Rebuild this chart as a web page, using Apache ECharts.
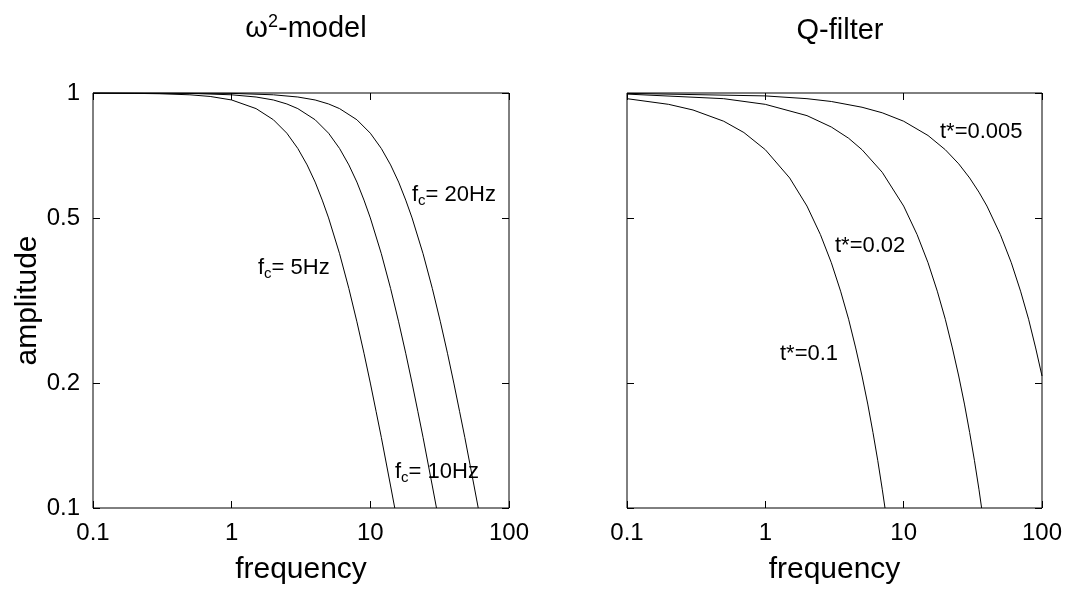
<!DOCTYPE html>
<html>
<head>
<meta charset="utf-8">
<script src="https://cdn.jsdelivr.net/npm/echarts@6/dist/echarts.min.js"></script>
<style>
html, body { margin: 0; padding: 0; background: #fff; }
#main { width: 1071px; height: 590px; }
</style>
</head>
<body>
<div id="main"></div>
<script>
// ω²-model, three corner frequencies
var freqFc5 = [0.1, 0.2, 0.3, 0.5, 0.7, 1, 1.5, 2, 2.5, 3, 3.5, 4, 4.5, 5, 6, 7, 8, 9, 10, 11, 12, 14, 15];
var ampFc5 = [1.0, 0.998, 0.996, 0.99, 0.981, 0.962, 0.917, 0.862, 0.8, 0.735, 0.671, 0.61, 0.552, 0.5, 0.41, 0.338, 0.281, 0.236, 0.2, 0.171, 0.148, 0.113, 0.1];
var freqFc10 = [0.1, 0.5, 1, 1.5, 2, 2.5, 3, 4, 5, 6, 7, 8, 9, 10, 12, 14, 16, 18, 20, 22, 24, 28, 30];
var ampFc10 = [1.0, 0.998, 0.99, 0.978, 0.962, 0.941, 0.917, 0.862, 0.8, 0.735, 0.671, 0.61, 0.552, 0.5, 0.41, 0.338, 0.281, 0.236, 0.2, 0.171, 0.148, 0.113, 0.1];
var freqFc20 = [0.1, 1, 2, 3, 4, 5, 6, 8, 10, 12, 14, 16, 18, 20, 24, 28, 32, 36, 40, 44, 48, 56, 60];
var ampFc20 = [1.0, 0.998, 0.99, 0.978, 0.962, 0.941, 0.917, 0.862, 0.8, 0.735, 0.671, 0.61, 0.552, 0.5, 0.41, 0.338, 0.281, 0.236, 0.2, 0.171, 0.148, 0.113, 0.1];

// Q-filter, three t* values
var freqT01 = [0.1, 0.2, 0.3, 0.5, 0.7, 1, 1.5, 2, 2.5, 3, 3.5, 4, 4.5, 5, 5.5, 6, 6.5, 7, 7.33];
var ampT01 = [0.969, 0.939, 0.91, 0.855, 0.803, 0.73, 0.624, 0.534, 0.456, 0.39, 0.333, 0.285, 0.243, 0.208, 0.178, 0.152, 0.13, 0.111, 0.1];
var freqT002 = [0.1, 0.5, 1, 2, 3, 4, 5, 7, 10, 12.5, 15, 17.5, 20, 22.5, 25, 27.5, 30, 32.5, 35, 36.6];
var ampT002 = [0.994, 0.969, 0.939, 0.882, 0.828, 0.778, 0.73, 0.644, 0.534, 0.456, 0.39, 0.333, 0.285, 0.243, 0.208, 0.178, 0.152, 0.13, 0.111, 0.1];
var freqT0005 = [0.1, 1, 2, 3, 5, 7, 10, 15, 20, 25, 30, 35, 40, 50, 60, 70, 80, 90, 100];
var ampT0005 = [0.998, 0.984, 0.969, 0.954, 0.924, 0.896, 0.855, 0.79, 0.73, 0.675, 0.624, 0.577, 0.534, 0.456, 0.39, 0.333, 0.285, 0.243, 0.208];

var yTicks = [0.1, 0.2, 0.5, 1];

var myChart = echarts.init(document.getElementById("main"));

function pairs(xs, ys) {
	return xs.map(function (x, i) { return [x, ys[i]]; });
}

var font = "Liberation Sans, Arial, Helvetica, sans-serif";

function xAxisFor(gridIndex, onTop) {
	return {
		type: "log",
		logBase: 10,
		gridIndex: gridIndex,
		position: onTop ? "top" : "bottom",
		min: 0.1,
		max: 100,
		axisLine: { show: false },
		axisTick: { show: true, inside: true, length: 7, lineStyle: { color: "#000", width: 1 } },
		axisLabel: { show: !onTop, color: "#000", fontSize: 24, fontFamily: font, margin: 13 },
		splitLine: { show: false },
		name: onTop ? "" : "frequency",
		nameLocation: "middle",
		nameGap: 47,
		nameTextStyle: { color: "#000", fontSize: 30, fontFamily: font }
	};
}

function yAxisFor(gridIndex, onRight, withLabels) {
	return {
		type: "log",
		logBase: 10,
		gridIndex: gridIndex,
		position: onRight ? "right" : "left",
		min: 0.1,
		max: 1,
		axisLine: { show: false },
		axisTick: { show: true, inside: true, length: 7, customValues: yTicks, lineStyle: { color: "#000", width: 1 } },
		axisLabel: { show: withLabels, customValues: yTicks, color: "#000", fontSize: 24, fontFamily: font, margin: 13 },
		splitLine: { show: false },
		name: withLabels ? "amplitude" : "",
		nameLocation: "middle",
		nameGap: 50,
		nameTextStyle: { color: "#000", fontSize: 30, fontFamily: font }
	};
}

function curve(xi, yi, xs, ys) {
	return {
		type: "line",
		xAxisIndex: xi,
		yAxisIndex: yi,
		data: pairs(xs, ys),
		showSymbol: false,
		symbol: "none",
		smooth: false,
		lineStyle: { color: "#000", width: 1 },
		silent: true
	};
}

var labelRich = {
	a: { fontSize: 22, fontFamily: font, color: "#000" },
	s: { fontSize: 15, fontFamily: font, color: "#000", padding: [11, 0, 0, 0] }
};

function note(x, y, text) {
	return {
		type: "text",
		x: x,
		y: y,
		style: { text: text, rich: labelRich, fill: "#000", verticalAlign: "middle" }
	};
}

var option = {
	animation: false,
	backgroundColor: "#fff",
	title: [
		{
			text: "{a|ω}{s|2}{a|-model}",
			left: 301,
			top: 8,
			textAlign: "center",
			textStyle: {
				rich: {
					a: { fontSize: 29, fontWeight: "normal", fontFamily: font, color: "#000" },
					s: { fontSize: 18, fontWeight: "normal", fontFamily: font, color: "#000", padding: [0, 0, 14, 0] }
				}
			}
		},
		{
			text: "Q-filter",
			left: 835,
			top: 11,
			textAlign: "center",
			textStyle: { fontSize: 29, fontWeight: "normal", fontFamily: font, color: "#000" }
		}
	],
	grid: [
		{ left: 93, top: 93, width: 416, height: 415, show: true, borderColor: "#000", borderWidth: 1, containLabel: false },
		{ left: 627, top: 93, width: 415, height: 415, show: true, borderColor: "#000", borderWidth: 1, containLabel: false }
	],
	xAxis: [xAxisFor(0, false), xAxisFor(0, true), xAxisFor(1, false), xAxisFor(1, true)],
	yAxis: [yAxisFor(0, false, true), yAxisFor(0, true, false), yAxisFor(1, false, false), yAxisFor(1, true, false)],
	series: [
		curve(0, 0, freqFc5, ampFc5),
		curve(0, 0, freqFc10, ampFc10),
		curve(0, 0, freqFc20, ampFc20),
		curve(2, 2, freqT01, ampT01),
		curve(2, 2, freqT002, ampT002),
		curve(2, 2, freqT0005, ampT0005)
	],
	graphic: [
		note(412, 195, "{a|f}{s|c}{a|= 20Hz}"),
		note(258, 268, "{a|f}{s|c}{a|= 5Hz}"),
		note(395, 472, "{a|f}{s|c}{a|= 10Hz}"),
		note(940, 132, "{a|t*=0.005}"),
		note(835, 246, "{a|t*=0.02}"),
		note(780, 354, "{a|t*=0.1}")
	]
};

myChart.setOption(option);
</script>
</body>
</html>
